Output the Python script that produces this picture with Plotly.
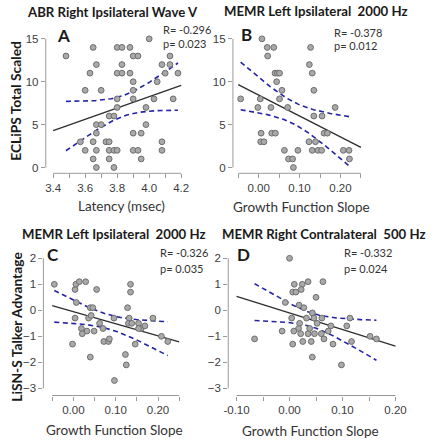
import numpy as np
import plotly.graph_objects as go

# ---------------- data ----------------
A_x = [4.00, 3.65, 3.80, 3.83, 3.88, 3.48, 3.90, 3.93, 4.13, 3.67, 3.83, 4.08, 4.13,
       3.63, 3.80, 3.83, 3.88, 4.10, 4.18, 3.90, 4.05, 3.60, 3.70, 3.90, 3.80, 3.90,
       4.03, 4.15, 3.80, 3.98, 3.75, 3.78, 3.67, 3.70, 3.98, 3.67, 3.90, 3.95, 3.57,
       3.65, 3.73, 3.75, 4.08, 3.60, 3.67, 3.75, 3.78, 3.80, 3.90, 3.93, 4.08, 3.65,
       3.75, 3.95, 3.67, 3.78]
A_y = [15, 14, 14, 14, 14, 13, 13, 13, 13, 12, 12, 12, 12, 11, 11, 11, 11, 11, 11,
       10, 10, 9, 9, 9, 8, 8, 8, 8, 7, 7, 6, 6, 5, 5, 5, 4, 4, 4, 3, 3, 3, 3, 3,
       2, 2, 2, 2, 2, 2, 2, 2, 1, 1, 1, 0, 0]

B_x = [0.008, 0.021, 0.037, 0.127, 0.022, 0.124, 0.040, 0.046, 0.051, 0.131, 0.044,
       0.057, 0.135, -0.044, 0.004, 0.051, -0.002, 0.030, 0.071, 0.187, 0.135, 0.155,
       0.006, 0.032, 0.041, 0.160, 0.168, 0.005, 0.013, 0.123, 0.139, 0.063, 0.096,
       0.131, 0.145, 0.154, 0.207, 0.221, 0.073, 0.083, 0.222, 0.085]
B_y = [15, 14, 14, 14, 13, 12, 11, 11, 11, 11, 10, 9, 9, 8, 8, 8, 7, 7, 7, 7, 6, 6,
       4, 4, 4, 4, 4, 3, 3, 3, 3, 2, 2, 2, 2, 2, 2, 2, 1, 1, 1, 0]

C_x = [-0.045, 0.004, 0.006, 0.014, 0.029, 0.055, 0.135, 0.135, 0.007, 0.040, 0.046,
       0.128, 0.004, 0.036, 0.042, 0.096, 0.132, 0.130, 0.138, 0.154, 0.188, 0.062,
       0.160, 0.169, 0.154, 0.070, 0.019, 0.032, 0.021, 0.049, 0.072, 0.083, 0.085,
       -0.002, 0.146, 0.208, 0.223, 0.040, 0.123, 0.125, 0.097]
C_y = [1.0, 0.8, 1.0, 1.1, 1.1, 0.8, 1.0, 0.7, 0.3, 0.1, 0.1, 0.1, -0.3, -0.3, -0.2,
       -0.3, -0.3, -0.5, -0.5, -0.5, -0.3, -0.5, -0.7, -0.6, -0.7, -0.7, -0.7, -0.8,
       -0.9, -0.8, -1.2, -1.2, -1.1, -1.3, -1.3, -1.0, -1.2, -1.8, -1.7, -2.1, -2.7]

D_x = [0.000, 0.009, 0.024, 0.035, 0.063, 0.006, 0.012, 0.022, 0.050, -0.008, 0.018,
       0.027, 0.043, 0.004, 0.032, 0.046, 0.061, 0.114, 0.019, 0.017, 0.052, 0.078,
       0.108, -0.014, 0.008, 0.021, 0.035, 0.047, 0.038, 0.060, 0.073, -0.066, 0.065,
       0.152, 0.164, 0.006, 0.025, 0.041, 0.082, 0.117, 0.043, 0.098]
D_y = [2.0, 1.0, 1.0, 1.1, 1.1, 0.7, 0.7, 0.8, 0.5, 0.3, 0.2, 0.1, -0.1, -0.3, -0.3,
       -0.3, -0.3, -0.3, -0.5, -0.7, -0.5, -0.6, -0.6, -0.8, -0.8, -0.9, -0.9, -0.9,
       -0.7, -0.9, -0.8, -1.1, -1.1, -1.0, -1.1, -1.3, -1.2, -1.2, -1.3, -1.2, -1.8, -2.1]

A_xticks = [3.4, 3.5, 3.6, 3.7, 3.8, 3.9, 4.0, 4.1, 4.2]
A_xlabels = ["3.4", "", "3.6", "", "3.8", "", "4.0", "", "4.2"]
B_xticks = [-0.05, 0.0, 0.05, 0.10, 0.15, 0.20, 0.25]
B_xlabels = ["", "0.00", "", "0.10", "", "0.20", ""]
D_xticks = [-0.10, -0.05, 0.0, 0.05, 0.10, 0.15, 0.20]
D_xlabels = ["-0.10", "", "0.00", "", "0.10", "", "0.20"]
TOP_yticks = [0, 5, 10, 15]
BOT_yticks = [-3, -2, -1, 0, 1, 2]

titles = ["ABR Right Ipsilateral Wave V", "MEMR Left Ipsilateral  2000 Hz",
          "MEMR Left Ipsilateral  2000 Hz", "MEMR Right Contralateral  500 Hz"]
letters = ["A", "B", "C", "D"]
r_text = ["R= -0.296", "R= -0.378", "R= -0.326", "R= -0.332"]
p_text = ["p= 0.023", "p= 0.012", "p= 0.035", "p= 0.024"]
xtitles = ["Latency (msec)", "Growth Function Slope", "Growth Function Slope",
           "Growth Function Slope"]
ytitles = ["ECLiPS Total Scaled", "LiSN-S Talker Advantage"]
T95 = 2.01

# ---------------- layout geometry (pixels) ----------------
W, H = 434, 440
def fx(p): return p / W
def fy(p): return 1 - p / H

panels = [
    dict(x=A_x, y=A_y, xt=A_xticks, xl=A_xlabels, yt=TOP_yticks,
         dom=(41.7, 190, 173.3, 30), xr=[3.3536, 4.259], yr=[-0.676, 16.03]),
    dict(x=B_x, y=B_y, xt=B_xticks, xl=B_xlabels, yt=TOP_yticks,
         dom=(233.3, 372, 173.3, 30), xr=[-0.0629, 0.2684], yr=[-0.676, 16.03]),
    dict(x=C_x, y=C_y, xt=B_xticks, xl=B_xlabels, yt=BOT_yticks,
         dom=(39.3, 187, 395.5, 250), xr=[-0.0708, 0.2701], yr=[-3.277, 2.319]),
    dict(x=D_x, y=D_y, xt=D_xticks, xl=D_xlabels, yt=BOT_yticks,
         dom=(228.5, 406, 395.5, 250), xr=[-0.1157, 0.2116], yr=[-3.277, 2.319]),
]

AX_COL = "#9a9a9a"
TICK_FONT = dict(family="Liberation Sans, Arial", size=11.5, color="#3c3c3c")
TXT_FONT = "Lato, Open Sans, sans-serif"

fig = go.Figure()
layout = {}
shapes = []
for i, p in enumerate(panels):
    sfx = "" if i == 0 else str(i + 1)
    xref, yref = "x" + sfx, "y" + sfx
    x = np.array(p["x"], float)
    y = np.array(p["y"], float)
    n = len(x)
    slope, icpt = np.polyfit(x, y, 1)
    xm = x.mean()
    sxx = ((x - xm) ** 2).sum()
    resid = y - (icpt + slope * x)
    s = np.sqrt((resid ** 2).sum() / (n - 2))
    xs = np.linspace(x.min(), x.max(), 80)
    yh = icpt + slope * xs
    hw = T95 * s * np.sqrt(1.0 / n + (xs - xm) ** 2 / sxx)

    for band in (yh + hw, yh - hw):
        fig.add_trace(go.Scatter(x=xs, y=band, mode="lines", xaxis=xref, yaxis=yref,
                                 line=dict(color="#2424a8", width=1.6, dash="5px,3.5px"),
                                 hoverinfo="skip", showlegend=False))
    lx = np.array([p["xt"][0], p["xt"][-1]])
    fig.add_trace(go.Scatter(x=lx, y=icpt + slope * lx, mode="lines", xaxis=xref,
                             yaxis=yref, line=dict(color="#2e2e2e", width=1.3),
                             showlegend=False))
    fig.add_trace(go.Scatter(x=x, y=y, mode="markers", xaxis=xref, yaxis=yref,
                             marker=dict(size=5.8, color="#a9a9a9",
                                         line=dict(color="#6e6e6e", width=1)),
                             showlegend=False))

    l, r, b, t = p["dom"]
    layout["xaxis" + sfx] = dict(domain=[fx(l), fx(r)], range=p["xr"], anchor=yref,
                                 tickmode="array", tickvals=p["xt"], ticktext=p["xl"],
                                 ticks="outside", ticklen=4, tickcolor=AX_COL,
                                 tickwidth=1, showgrid=False, zeroline=False,
                                 showline=False, tickfont=TICK_FONT)
    layout["yaxis" + sfx] = dict(domain=[fy(b), fy(t)], range=p["yr"], anchor=xref,
                                 tickmode="array", tickvals=p["yt"],
                                 ticks="outside", ticklen=4, tickcolor=AX_COL,
                                 tickwidth=1, showgrid=False, zeroline=False,
                                 showline=False, tickfont=TICK_FONT)
    shapes.append(dict(type="line", xref=xref, yref=yref + " domain",
                       x0=p["xt"][0], x1=p["xt"][-1], y0=0, y1=0,
                       line=dict(color=AX_COL, width=1)))
    shapes.append(dict(type="line", xref=xref + " domain", yref=yref,
                       x0=0, x1=0, y0=p["yt"][0], y1=p["yt"][-1],
                       line=dict(color=AX_COL, width=1)))

ann = []
def add(text, x, y, size, bold=False, angle=0, xanchor="center", color="#1a1a1a"):
    ann.append(dict(text=("<b>%s</b>" % text) if bold else text, x=fx(x), y=fy(y),
                    xref="paper", yref="paper", showarrow=False, textangle=angle,
                    xanchor=xanchor, yanchor="middle",
                    font=dict(family=TXT_FONT, size=size, color=color)))

title_pos = [(110, 12), (318, 11), (112, 234), (327, 234)]
letter_pos = [(60, 36), (247, 34), (49, 254), (244, 254)]
rp_pos = [(160, 30, 43), (335, 32, 45), (157, 253, 268), (345, 253, 268)]
xt_pos = [(119, 206), (303, 207), (112, 430), (313, 431)]
for i in range(4):
    add(titles[i], *title_pos[i], 13.2, bold=True)
    add(letters[i], *letter_pos[i], 17, bold=True)
    add(r_text[i], rp_pos[i][0], rp_pos[i][1], 11, xanchor="left", color="#333333")
    add(p_text[i], rp_pos[i][0], rp_pos[i][2], 11, xanchor="left", color="#333333")
    add(xtitles[i], *xt_pos[i], 13.5, color="#333333")
add(ytitles[0], 11, 101, 13.8, bold=True, angle=-90)
add(ytitles[1], 11, 327, 13.8, bold=True, angle=-90)

fig.update_layout(width=W, height=H, margin=dict(l=0, r=0, t=0, b=0),
                  paper_bgcolor="white", plot_bgcolor="white",
                  shapes=shapes, annotations=ann, showlegend=False, **layout)
fig.write_html("out.html", config={"displayModeBar": False},
               post_script="document.body.style.margin='0px';"
                           "document.body.style.overflow='hidden';")
